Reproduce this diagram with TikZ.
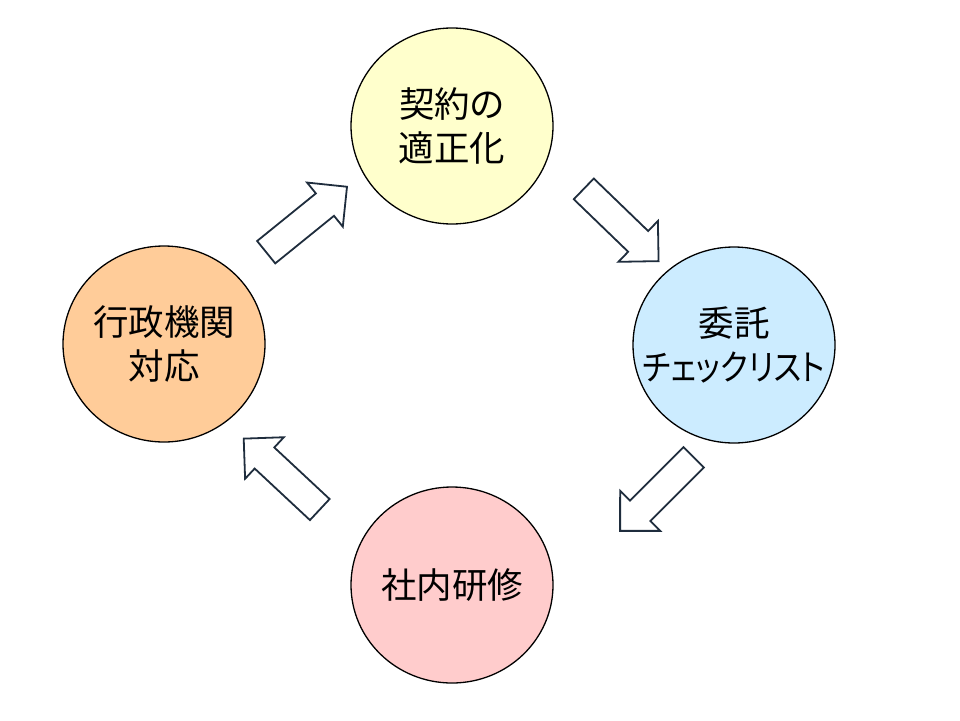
\documentclass[tikz,border=0pt]{standalone}
\usepackage{fontspec}
\usepackage{graphicx}
\setmainfont{Noto Sans CJK JP}[RawFeature=+palt]
\usetikzlibrary{shapes.geometric,shapes.arrows}
\definecolor{cyellow}{RGB}{255,255,204}
\definecolor{cblue}{RGB}{204,236,255}
\definecolor{cpink}{RGB}{255,204,204}
\definecolor{corange}{RGB}{255,204,153}
\definecolor{arrline}{RGB}{31,45,61}
\begin{document}
\begin{tikzpicture}[x=1pt,y=-1pt,
  stage/.style={draw,ellipse,line width=1.3pt,minimum width=202pt,minimum height=196pt,
    inner xsep=-40pt,inner ysep=0pt,align=center,font=\fontsize{35.5}{44}\selectfont},
  flow/.style={draw=arrline,fill=white,single arrow,line width=1.8pt,inner xsep=0pt,
    inner ysep=13.5pt,minimum height=104pt,single arrow head extend=14pt,outer sep=0pt}]
	%%
  \useasboundingbox (0,0) rectangle (960,720);
  \node (Keiyaku) at (452,126) [stage,fill=cyellow] {契約の\\適正化};
  \node (Itaku) at (734,345) [stage,fill=cblue] {委託\\\scalebox{0.87}[1]{チェックリスト}};
  \node (Kenshu) at (452,585) [stage,fill=cpink] {社内研修};
  \node (Gyosei) at (164,344) [stage,fill=corange] {行政機関\\対応};
  %
  \node (A1) at (301,224) [flow,rotate=39] {};
  \node (A2) at (616,220) [flow,rotate=-44] {};
  \node (A3) at (662,489) [flow,rotate=225] {};
  \node (A4) at (287,479) [flow,rotate=137] {};
	%
\end{tikzpicture}
\end{document}
